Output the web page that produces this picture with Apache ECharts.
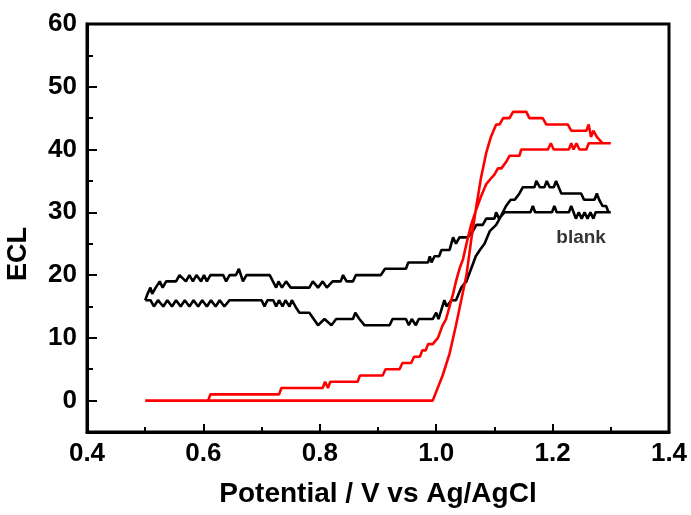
<!DOCTYPE html>
<html>
<head>
<meta charset="utf-8">
<script src="https://cdn.jsdelivr.net/npm/echarts@6/dist/echarts.min.js"></script>
<style>
html,body{margin:0;padding:0;background:#fff;}
#chart{width:691px;height:515px;}
</style>
</head>
<body>
<div id="chart"></div>
<script>
// Potential (V) vs ECL intensity, [V, ECL] pairs
const blackForward = [
[0.500,16],[0.509,16],[0.515,15],[0.522,16],[0.531,15],[0.538,16],[0.546,15],[0.553,16],[0.561,15],[0.568,16],
[0.576,15],[0.583,16],[0.591,15],[0.598,16],[0.606,15],[0.613,16],[0.621,15],[0.628,16],[0.636,15],[0.645,16],
[0.700,16],[0.705,15],[0.710,16],[0.720,16],[0.725,15],[0.730,16],[0.736,15],[0.741,16],[0.748,15],[0.752,16],
[0.758,15],[0.765,14],[0.782,14],[0.797,12],[0.808,13],[0.820,12],[0.828,13],[0.857,13],[0.861,14],[0.868,13],
[0.877,12],[0.920,12],[0.925,13],[0.948,13],[0.953,12],[0.958,13],[0.965,12],[0.970,13],[0.994,13],[1.000,14],
[1.004,13],[1.014,16],[1.018,15],[1.026,16],[1.034,16],[1.043,18],[1.052,19],[1.060,21],[1.068,23],[1.075,24],
[1.083,25],[1.092,27],[1.103,28],[1.109,29],[1.120,31],[1.128,32],[1.135,32],[1.143,33],[1.149,34],[1.169,34],
[1.172,35],[1.178,34],[1.186,34],[1.190,35],[1.195,34],[1.202,34],[1.206,35],[1.215,33],[1.249,33],[1.254,32],
[1.272,32],[1.276,33],[1.280,32],[1.286,31],[1.292,31],[1.296,30],[1.300,30]
];
const blackReverse = [
[0.500,16],[0.504,17],[0.509,18],[0.512,17],[0.518,18],[0.525,19],[0.530,18],[0.536,19],[0.553,19],[0.559,20],
[0.570,19],[0.576,20],[0.582,19],[0.588,20],[0.596,19],[0.601,20],[0.606,19],[0.612,20],[0.634,20],[0.639,19],
[0.645,20],[0.656,20],[0.661,21],[0.668,19],[0.674,20],[0.714,20],[0.725,18],[0.729,19],[0.735,18],[0.742,19],
[0.750,18],[0.782,18],[0.788,19],[0.797,18],[0.805,19],[0.812,18],[0.822,19],[0.836,19],[0.840,20],[0.846,19],
[0.857,19],[0.862,20],[0.905,20],[0.912,21],[0.948,21],[0.952,22],[0.986,22],[0.989,23],[0.992,22],[0.997,23],
[1.005,23],[1.009,24],[1.023,24],[1.029,26],[1.034,25],[1.040,26],[1.054,26],[1.063,27],[1.069,28],[1.080,28],
[1.086,29],[1.100,29],[1.103,30],[1.108,29],[1.117,30],[1.162,30],[1.166,31],[1.170,30],[1.199,30],[1.203,31],
[1.207,30],[1.228,30],[1.232,31],[1.236,30],[1.240,29],[1.245,30],[1.250,29],[1.255,30],[1.260,29],[1.265,30],
[1.270,29],[1.274,30],[1.300,30]
];
const redForward = [
[0.500,0],[0.994,0],[1.011,4],[1.023,7.5],[1.034,12],[1.043,16],[1.052,20],[1.060,25.5],[1.069,31],[1.077,35.5],
[1.086,39.5],[1.094,42],[1.103,44],[1.109,44],[1.115,45],[1.126,45],[1.132,46],[1.155,46],[1.160,45],[1.183,45],
[1.189,44],[1.226,44],[1.232,43],[1.258,43],[1.262,44],[1.266,42],[1.270,43],[1.276,42],[1.286,41],[1.300,41]
];
const redReverse = [
[0.500,0],[0.608,0],[0.612,1],[0.730,1],[0.734,2],[0.805,2],[0.809,3],[0.814,2],[0.818,3],[0.865,3],
[0.869,4],[0.908,4],[0.913,5],[0.937,5],[0.942,6],[0.957,6],[0.962,7],[0.972,7],[0.976,8],[0.982,8],
[0.986,9],[0.994,9],[1.003,10],[1.011,12],[1.017,13],[1.023,15],[1.029,17],[1.034,19],[1.040,21],[1.046,22.5],
[1.052,25],[1.060,28],[1.069,30.5],[1.077,32.5],[1.086,34.5],[1.095,35.5],[1.100,36],[1.106,37],[1.112,37],[1.120,38],
[1.126,39],[1.143,39],[1.146,40],[1.192,40],[1.197,41],[1.202,40],[1.228,40],[1.232,41],[1.236,40],[1.241,41],
[1.246,40],[1.258,40],[1.262,41],[1.300,41]
];
const blankLabel = {text: 'blank', pos: [1.249, 26]};
const xTitle = 'Potential / V vs Ag/AgCl';
const yTitle = 'ECL';

const FONT = '"Liberation Sans", Arial, sans-serif';
const loop = (fwd, rev) => fwd.concat(rev.slice().reverse());

const chart = echarts.init(document.getElementById('chart'), null, {renderer: 'canvas'});
const GL = 87, GR = 22, GT = 24, GB = 83;
const plotH = 515 - GT - GB;
const y0px = GT + plotH * 60 / 65;
const plotCx = GL + (691 - GL - GR) / 2;
const tickStyle = w => ({color: '#000', width: w});

chart.setOption({
  animation: false,
  backgroundColor: '#fff',
  grid: [
    {left: GL, right: GR, top: GT, bottom: GB, show: true, borderColor: '#000', borderWidth: 3, backgroundColor: 'transparent'},
    {left: GL, right: GR, top: GT, bottom: 515 - y0px, show: false}
  ],
  xAxis: [
    {type: 'value', gridIndex: 0, position: 'bottom', min: 0.4, max: 1.4, interval: 0.1,
     axisLine: {onZero: false, lineStyle: {color: '#000', width: 3}},
     axisTick: {inside: true, length: 5, lineStyle: tickStyle(2)},
     splitLine: {show: false},
     axisLabel: {formatter: v => (Math.round(v * 10) % 2 === 0 ? v.toFixed(1) : ''),
                 color: '#000', fontSize: 26, fontWeight: 'bold', fontFamily: FONT, margin: 9}},
    {type: 'value', gridIndex: 0, position: 'bottom', min: 0.4, max: 1.4, interval: 0.2,
     axisLine: {show: false, onZero: false},
     axisTick: {inside: true, length: 8, lineStyle: tickStyle(2)},
     splitLine: {show: false}, axisLabel: {show: false}},
    {type: 'value', gridIndex: 1, min: 0.4, max: 1.4, show: false, axisLine: {onZero: false}}
  ],
  yAxis: [
    {type: 'value', gridIndex: 0, min: -5, max: 60,
     axisLine: {show: true, onZero: false, lineStyle: {color: '#000', width: 3}},
     axisTick: {show: false}, axisLabel: {show: false}, splitLine: {show: false}},
    {type: 'value', gridIndex: 1, position: 'left', min: 0, max: 60, interval: 5,
     axisLine: {show: false, onZero: false},
     axisTick: {show: true, inside: true, length: 6, lineStyle: tickStyle(2)},
     splitLine: {show: false},
     axisLabel: {formatter: v => (v % 10 === 0 ? String(v) : ''),
                 color: '#000', fontSize: 26, fontWeight: 'bold', fontFamily: FONT, margin: 10}},
    {type: 'value', gridIndex: 1, position: 'left', min: 0, max: 60, interval: 10,
     axisLine: {show: false, onZero: false},
     axisTick: {show: true, inside: true, length: 10, lineStyle: tickStyle(2)},
     splitLine: {show: false}, axisLabel: {show: false}}
  ],
  series: [
    {type: 'line', xAxisIndex: 0, yAxisIndex: 0, data: loop(blackForward, blackReverse),
     showSymbol: false, symbol: 'none', lineStyle: {color: '#000', width: 2.6}, z: 3},
    {type: 'line', xAxisIndex: 0, yAxisIndex: 0, data: loop(redForward, redReverse),
     showSymbol: false, symbol: 'none', lineStyle: {color: '#ff0000', width: 2.6}, z: 4},
    {type: 'scatter', xAxisIndex: 0, yAxisIndex: 0, data: [blankLabel.pos], symbolSize: 0,
     label: {show: true, position: 'inside', formatter: blankLabel.text, color: '#000', fontSize: 19, fontWeight: 'bold', fontFamily: FONT}}
  ],
  graphic: [
    {type: 'text', x: plotCx, y: 494,
     style: {text: xTitle, fill: '#000', font: 'bold 28px ' + FONT, align: 'center', verticalAlign: 'middle'}},
    {type: 'text', x: 19, y: 254, rotation: Math.PI / 2,
     style: {text: yTitle, fill: '#000', font: 'bold 27px ' + FONT, align: 'center', verticalAlign: 'middle'}}
  ]
});
</script>
</body>
</html>
